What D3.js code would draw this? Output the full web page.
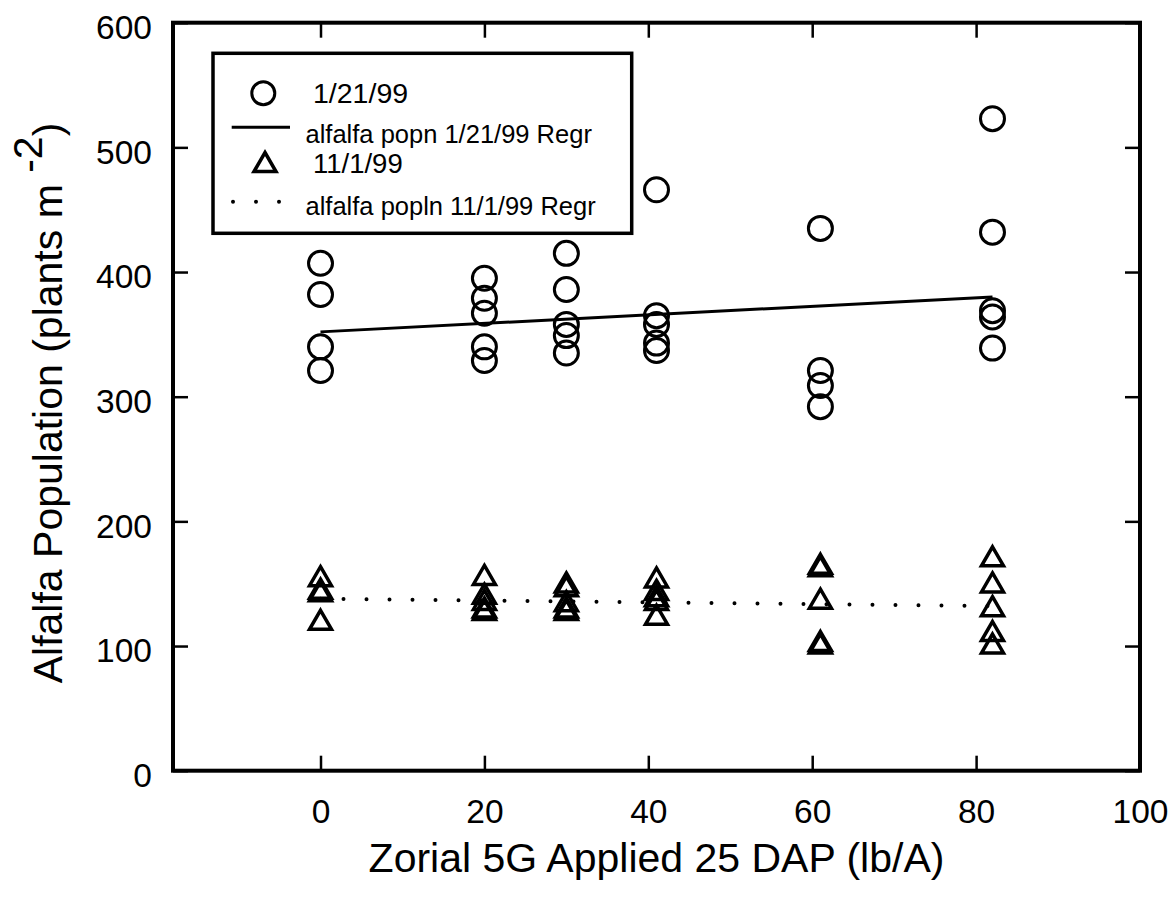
<!DOCTYPE html>
<html>
<head>
<meta charset="utf-8">
<script src="https://cdn.jsdelivr.net/npm/d3@7"></script>
<style>
  body { margin: 0; background: #fff; }
  text { font-family: "Liberation Sans", Arial, sans-serif; fill: #000; }
</style>
</head>
<body>
<script>
// Zorial rates (lb/A) and alfalfa counts
var rates = [0, 20, 30, 41, 61, 82];
var popJan99 = [
    [407, 382, 340, 321],
    [395, 379, 367, 340, 329],
    [415, 386, 358, 349, 335],
    [466, 365, 358, 343, 337],
    [435, 321, 309, 292],
    [523, 432, 369, 364, 339]
];
var popNov99 = [
    [156, 146, 144, 121],
    [157, 142, 137, 131, 129],
    [151, 148, 136, 131, 129],
    [155, 145, 140, 137, 125],
    [166, 164, 138, 104, 102],
    [172, 151, 132, 112, 102]
];
// regression lines (end points)
var regrX = [0, 82];
var regrJan = [352, 380];
var regrNov = [138, 132];

var xTicks = [0, 20, 40, 60, 80, 100];
var yTicks = [0, 100, 200, 300, 400, 500, 600];
var legendLabels = ["1/21/99", "alfalfa popn 1/21/99 Regr", "11/1/99", "alfalfa popln 11/1/99 Regr"];

var w = 1176, h = 905;
var margin = {top: 22.7, left: 173, right: 36, bottom: 134.3};
var width = w - margin.left - margin.right,
    height = h - margin.top - margin.bottom;

var svg = d3.select("body").append("svg")
    .attr("width", w)
    .attr("height", h);

svg.append("rect").attr("width", w).attr("height", h).attr("fill", "#fff");

var chart = svg.append("g")
    .attr("transform", "translate(" + margin.left + "," + margin.top + ")");

var x = d3.scaleLinear().domain([-18, 100]).range([0, width]);
var y = d3.scaleLinear().domain([0, 600]).range([height, 0]);

function flat(groups) {
    var out = [];
    groups.forEach(function (g, i) {
        g.forEach(function (v) { out.push({x: rates[i], y: v}); });
    });
    return out;
}

// axes, ticks pointing inwards on all four sides
var xAxis = d3.axisBottom(x).tickValues(xTicks).tickSize(-15).tickPadding(29);
var xAxisTop = d3.axisTop(x).tickValues(xTicks).tickSize(-15).tickFormat("");
var yAxis = d3.axisLeft(y).tickValues(yTicks).tickSize(-15).tickPadding(21);
var yAxisRight = d3.axisRight(y).tickValues(yTicks).tickSize(-15).tickFormat("");

function styleAxis(g) {
    g.select(".domain").remove();
    g.selectAll(".tick line").attr("stroke", "#000").attr("stroke-width", 2.5);
    g.selectAll(".tick text")
        .style("font-family", "'Liberation Sans', Arial, sans-serif")
        .style("font-size", "33.5px")
        .attr("fill", "#000");
}

chart.append("g")
    .attr("transform", "translate(0," + height + ")")
    .call(xAxis).call(styleAxis);
chart.append("g").call(xAxisTop).call(styleAxis);
chart.append("g").call(yAxis).call(styleAxis)
    .selectAll(".tick text").attr("dy", "0.47em");
chart.append("g")
    .attr("transform", "translate(" + width + ",0)")
    .call(yAxisRight).call(styleAxis);

chart.append("rect")
    .attr("width", width)
    .attr("height", height)
    .attr("fill", "none")
    .attr("stroke", "#000")
    .attr("stroke-width", 4);

// regression lines
var line = d3.line()
    .x(function (d) { return x(d[0]); })
    .y(function (d) { return y(d[1]); });

chart.append("path")
    .datum(d3.zip(regrX, regrJan))
    .attr("d", line)
    .attr("fill", "none")
    .attr("stroke", "#000")
    .attr("stroke-width", 3);

chart.append("path")
    .datum(d3.zip(regrX, regrNov))
    .attr("d", line)
    .attr("fill", "none")
    .attr("stroke", "#000")
    .attr("stroke-width", 4)
    .attr("stroke-linecap", "round")
    .attr("stroke-dasharray", "0,23");

// markers
var tri = "M0,-9.5L11,9.5L-11,9.5Z";

chart.selectAll(".jan")
    .data(flat(popJan99))
    .enter().append("circle")
    .attr("class", "jan")
    .attr("cx", function (d) { return x(d.x); })
    .attr("cy", function (d) { return y(d.y); })
    .attr("r", 12)
    .attr("fill", "none")
    .attr("stroke", "#000")
    .attr("stroke-width", 3);

chart.selectAll(".nov")
    .data(flat(popNov99))
    .enter().append("path")
    .attr("class", "nov")
    .attr("d", tri)
    .attr("transform", function (d) { return "translate(" + x(d.x) + "," + y(d.y) + ")"; })
    .attr("fill", "none")
    .attr("stroke", "#000")
    .attr("stroke-width", 3.5);

// legend
var legend = svg.append("g");
legend.append("rect")
    .attr("x", 213).attr("y", 53.3)
    .attr("width", 418.7).attr("height", 180)
    .attr("fill", "#fff")
    .attr("stroke", "#000")
    .attr("stroke-width", 3.5);

legend.append("circle")
    .attr("cx", 263.3).attr("cy", 93.3).attr("r", 11.5)
    .attr("fill", "none").attr("stroke", "#000").attr("stroke-width", 3);
legend.append("line")
    .attr("x1", 231.7).attr("x2", 290).attr("y1", 127.3).attr("y2", 127.3)
    .attr("stroke", "#000").attr("stroke-width", 3);
legend.append("path")
    .attr("d", tri)
    .attr("transform", "translate(265,162)")
    .attr("fill", "none").attr("stroke", "#000").attr("stroke-width", 3.5);
legend.append("line")
    .attr("x1", 233).attr("x2", 280).attr("y1", 201.7).attr("y2", 201.7)
    .attr("stroke", "#000").attr("stroke-width", 4)
    .attr("stroke-linecap", "round")
    .attr("stroke-dasharray", "0,23");

var legendText = [
    {x: 313, y: 103.3, size: 28.5},
    {x: 305.5, y: 142.5, size: 25.5},
    {x: 313, y: 173, size: 27.5},
    {x: 305.5, y: 215, size: 25.5}
];
legend.selectAll(".lt")
    .data(legendLabels)
    .enter().append("text")
    .attr("class", "lt")
    .attr("x", function (d, i) { return legendText[i].x; })
    .attr("y", function (d, i) { return legendText[i].y; })
    .style("font-size", function (d, i) { return legendText[i].size + "px"; })
    .text(function (d) { return d; });

// axis titles
svg.append("text")
    .attr("x", margin.left + width / 2)
    .attr("y", 872)
    .attr("text-anchor", "middle")
    .style("font-size", "41px")
    .text("Zorial 5G Applied 25 DAP (lb/A)");

var yt = svg.append("text")
    .attr("transform", "translate(62,403) rotate(-90)")
    .attr("text-anchor", "middle")
    .style("font-size", "41px");
yt.append("tspan").text("Alfalfa Population (plants m ");
yt.append("tspan").attr("dy", "-0.5em").text("-2");
yt.append("tspan").attr("dy", "0.5em").text(")");
</script>
</body>
</html>
